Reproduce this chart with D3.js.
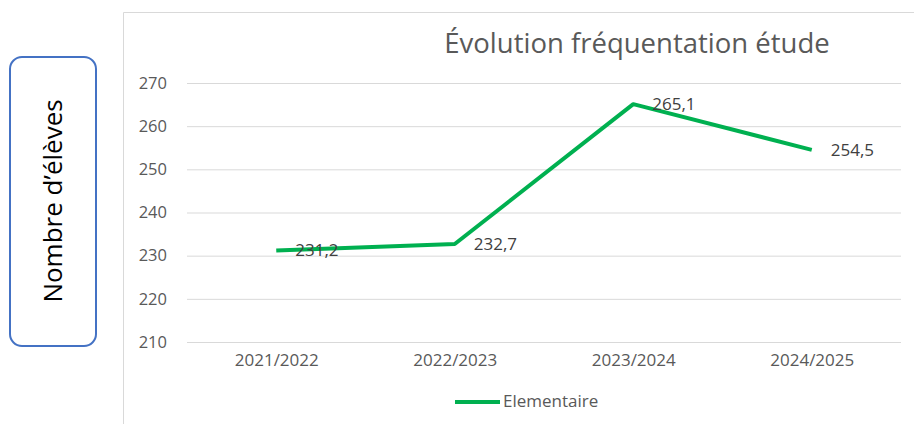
<!DOCTYPE html>
<html><head><meta charset="utf-8">
<script src="https://cdn.jsdelivr.net/npm/d3@7"></script>
<style>body{margin:0;background:#fff;}svg{display:block;}</style>
</head><body>
<svg id="c" width="914" height="424"></svg>
<script>
const categories = ["2021/2022","2022/2023","2023/2024","2024/2025"];
const values = [231.2, 232.7, 265.1, 254.5];
const valueLabels = ["231,2","232,7","265,1","254,5"];
const yTicks = [210,220,230,240,250,260,270];
const seriesName = "Elementaire";
const title = "Évolution fréquentation étude";
const yTitle = "Nombre d’élèves";

const svg = d3.select("#c");
const font = "'Open Sans', sans-serif";
const grey = "#595959";
const green = "#00B050";

// chart frame
svg.append("path").attr("d","M123.5,424 V12.5 H914").attr("fill","none").attr("stroke","#D9D9D9").attr("stroke-width",1);

const x = d3.scalePoint().domain(categories).range([187,901]).padding(0.5);
const y = d3.scaleLinear().domain([210,270]).range([342,83]);

// grid
const gy = svg.append("g").attr("transform","translate(187,0)")
  .call(d3.axisLeft(y).tickValues(yTicks).tickSize(-714).tickPadding(20));
gy.select(".domain").remove();
gy.selectAll(".tick line").attr("stroke","#D9D9D9").attr("stroke-width",1);
gy.selectAll(".tick text").attr("fill",grey).style("font-family",font).style("font-size","16.5px");

const gx = svg.append("g").attr("transform","translate(0,342)")
  .call(d3.axisBottom(x).tickSize(0).tickPadding(12));
gx.select(".domain").remove();
gx.selectAll(".tick text").attr("fill",grey).style("font-family",font).style("font-size","17px");

// line
const data = categories.map((c,i)=>({c, v:values[i], l:valueLabels[i]}));
svg.append("path").datum(data)
  .attr("d", d3.line().x(d=>x(d.c)).y(d=>y(d.v)))
  .attr("fill","none").attr("stroke",green).attr("stroke-width",4).attr("stroke-linejoin","round");

// data labels
svg.selectAll(".dl").data(data).join("text")
  .attr("x", d=>x(d.c)+19).attr("y", d=>y(d.v)).attr("dy","0.35em")
  .attr("fill","#404040").style("font-family",font).style("font-size","17px")
  .text(d=>d.l);

// title
svg.append("text").attr("x",637).attr("y",53).attr("text-anchor","middle")
  .attr("fill",grey).style("font-family",font).style("font-size","27.5px").text(title);

// legend
svg.append("line").attr("x1",455).attr("x2",500).attr("y1",402).attr("y2",402)
  .attr("stroke",green).attr("stroke-width",4);
svg.append("text").attr("x",503).attr("y",401).attr("dy","0.35em")
  .attr("fill",grey).style("font-family",font).style("font-size","17px").text(seriesName);

// y title box
svg.append("rect").attr("x",10).attr("y",57).attr("width",86).attr("height",289).attr("rx",12)
  .attr("fill","#fff").attr("stroke","#4472C4").attr("stroke-width",2);
svg.append("text").attr("transform","translate(53,201) rotate(-90)").attr("text-anchor","middle")
  .attr("dy","0.35em").attr("fill","#000").style("font-family",font).style("font-size","26px").text(yTitle);
</script>
</body></html>
